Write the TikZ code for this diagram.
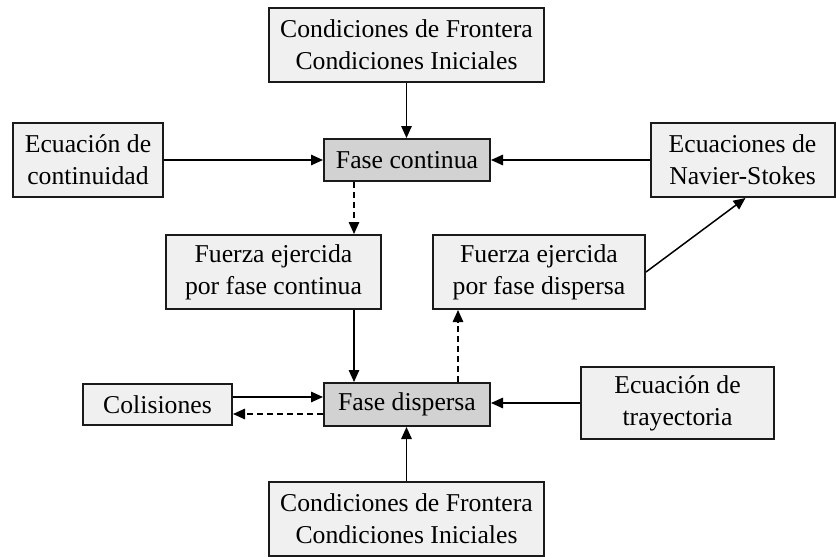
\documentclass[tikz,border=0pt]{standalone}
\usepackage{fontspec}
\setmainfont{Liberation Serif}
\usetikzlibrary{arrows.meta}
\definecolor{boxlight}{HTML}{F0F0F0}
\definecolor{boxdark}{HTML}{D2D2D2}
\definecolor{edge}{HTML}{1A1A1A}
\tikzset{
  lbox/.style={draw=edge, line width=2pt, fill=boxlight, align=center, inner sep=0pt,
    font=\fontsize{25.7}{32}\selectfont},
  dbox/.style={lbox, fill=boxdark},
  conn/.style={draw=black, line width=1.5pt, -{Triangle[length=12pt,width=10.5pt]}},
  dconn/.style={conn, dash pattern=on 6pt off 4pt},
}
\begin{document}
\begin{tikzpicture}[x=1pt,y=-1pt]
\useasboundingbox (0,0) rectangle (836,557);
\node[lbox, minimum width=275pt, minimum height=74pt] (top) at (406.5,45) {Condiciones de Frontera\\Condiciones Iniciales};
\node[lbox, minimum width=150pt, minimum height=74pt] (ecu) at (88,160) {Ecuación de\\continuidad};
\node[dbox, minimum width=166pt, minimum height=42pt] (fc) at (407,160) {Fase continua};
\node[lbox, minimum width=184pt, minimum height=74pt] (ns) at (742.5,160) {Ecuaciones de\\Navier-Stokes};
\node[lbox, minimum width=215pt, minimum height=74pt] (fuc) at (273.5,272) {Fuerza ejercida\\por fase continua};
\node[lbox, minimum width=212pt, minimum height=74pt] (fud) at (539,272) {Fuerza ejercida\\por fase dispersa};
\node[dbox, minimum width=166pt, minimum height=43pt] (fd) at (407,404.5) {Fase dispersa};
\node[lbox, minimum width=149pt, minimum height=41pt] (col) at (157.5,404.5) {Colisiones};
\node[lbox, minimum width=193pt, minimum height=72pt] (tray) at (677.5,403) {Ecuación de\\trayectoria};
\node[lbox, minimum width=275pt, minimum height=74pt] (bot) at (406.5,519) {Condiciones de Frontera\\Condiciones Iniciales};
\coordinate (cx) at (354,0);
\coordinate (dx) at (458,0);
\draw[conn] (top.south) -- (top.south |- fc.north);
\draw[conn] (ecu.east) -- (fc.west);
\draw[conn] (ns.west) -- (fc.east);
\draw[dconn] (fc.south -| cx) -- (fuc.north -| cx);
\draw[conn] (fuc.south -| cx) -- (fd.north -| cx);
\draw[dconn] (fd.north -| dx) -- (fud.south -| dx);
\draw[conn] (fud.east) -- ([xshift=3pt]ns.south);
\draw[conn] ([yshift=7.5pt]col.east) -- ([yshift=7.5pt]col.east -| fd.west);
\draw[dconn] ([yshift=-9.5pt]fd.west) -- ([yshift=-9.5pt]fd.west -| col.east);
\draw[conn] (tray.west) -- (tray.west -| fd.east);
\draw[conn] (bot.north) -- (bot.north |- fd.south);
\end{tikzpicture}
\end{document}
